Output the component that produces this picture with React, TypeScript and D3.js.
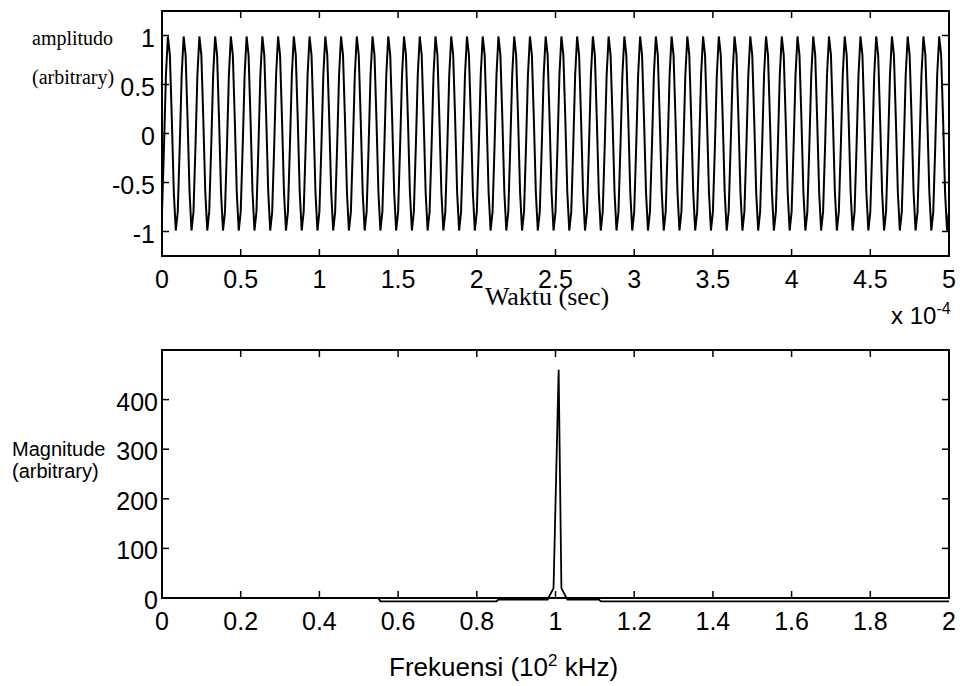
import React from "react";
import * as d3 from "d3";

// one period of the time signal (8 samples per cycle)
const waveCycle = [-0.8, -0.14, 0.6, 0.99, 0.8, 0.14, -0.6, -0.99];
const waveCycles = 50;
const waveEnd = 5; // x 10^-4 sec

// spectrum, frequency in 10^2 kHz
const specFreq = [0, 0.55, 0.555, 0.85, 0.855, 0.98, 0.995, 1.008, 1.015, 1.03, 1.11, 1.115, 2];
const specMag = [0, 0, -7, -7, -3, -3, 20, 460, 20, -3, -3, -7, -7];

const timeTicks = [0, 0.5, 1, 1.5, 2, 2.5, 3, 3.5, 4, 4.5, 5];
const ampTicks = [-1, -0.5, 0, 0.5, 1];
const freqTicks = [0, 0.2, 0.4, 0.6, 0.8, 1, 1.2, 1.4, 1.6, 1.8, 2];
const magTicks = [0, 100, 200, 300, 400];

const sans = "Liberation Sans, Arial, Helvetica, sans-serif";
const serif = "Liberation Serif, Times New Roman, serif";

const left = 162;
const right = 949;
const tickLen = 7;

function Frame({ x, y, xt, yt }: any) {
  const [x0, x1] = x.range();
  const [y0, y1] = y.range();
  return (
    <g stroke="#000" strokeWidth={1.5}>
      {xt.map((t: number) => (
        <g key={"x" + t}>
          <line x1={x(t)} x2={x(t)} y1={y0} y2={y0 - tickLen} />
          <line x1={x(t)} x2={x(t)} y1={y1} y2={y1 + tickLen} />
        </g>
      ))}
      {yt.map((t: number) => (
        <g key={"y" + t}>
          <line x1={x0} x2={x0 + tickLen} y1={y(t)} y2={y(t)} />
          <line x1={x1} x2={x1 - tickLen} y1={y(t)} y2={y(t)} />
        </g>
      ))}
      <rect x={x0} y={y1} width={x1 - x0} height={y0 - y1} fill="none" strokeWidth={2} />
    </g>
  );
}

export default function App() {
  // time series built from the read cycle
  const n = waveCycle.length;
  const wave: [number, number][] = [];
  for (let c = 0; c < waveCycles; c++) {
    waveCycle.forEach((v, i) => wave.push([((c * n + i) / (waveCycles * n)) * waveEnd, v]));
  }
  wave.push([waveEnd, waveCycle[0]]);

  const xT = d3.scaleLinear().domain([0, 5]).range([left, right]);
  const yT = d3.scaleLinear().domain([-1.25, 1.25]).range([256, 11]);
  const xF = d3.scaleLinear().domain([0, 2]).range([left, right]);
  const yF = d3.scaleLinear().domain([0, 500]).range([598, 350]);

  const waveLine = d3.line<[number, number]>().x((d) => xT(d[0])).y((d) => yT(d[1]));
  const specLine = d3
    .line<number>()
    .x((d) => xF(d))
    .y((_, i) => yF(specMag[i]));

  return (
    <svg width={960} height={686} style={{ position: "absolute", left: 0, top: 0 }}>
      <rect width={960} height={686} fill="#fff" />

      {/* upper plot */}
      <path d={waveLine(wave) || ""} fill="none" stroke="#000" strokeWidth={2} />
      <Frame x={xT} y={yT} xt={timeTicks} yt={ampTicks} />
      <g fontFamily={sans} fontSize={25} fill="#000">
        {timeTicks.map((t) => (
          <text key={t} x={xT(t)} y={288} textAnchor="middle">
            {t}
          </text>
        ))}
        {ampTicks.map((t) => (
          <text key={t} x={155} y={yT(t) + 11} textAnchor="end">
            {t}
          </text>
        ))}
        <text x={891} y={324} fontSize={24}>
          x 10
          <tspan dy={-10} fontSize={16}>-4</tspan>
        </text>
      </g>
      <g fontFamily={serif} fill="#000">
        <text x={32} y={45} fontSize={20}>amplitudo</text>
        <text x={32} y={84} fontSize={20}>(arbitrary)</text>
        <text x={547} y={305} fontSize={26} textAnchor="middle">Waktu (sec)</text>
      </g>

      {/* lower plot */}
      <path d={specLine(specFreq) || ""} fill="none" stroke="#000" strokeWidth={1.8} />
      <Frame x={xF} y={yF} xt={freqTicks} yt={magTicks} />
      <g fontFamily={sans} fontSize={25} fill="#000">
        {freqTicks.map((t) => (
          <text key={t} x={xF(t)} y={630} textAnchor="middle">
            {t}
          </text>
        ))}
        {magTicks.map((t) => (
          <text key={t} x={158} y={yF(t) + 11} textAnchor="end">
            {t}
          </text>
        ))}
        <text x={389} y={676} fontSize={26}>
          Frekuensi (10
          <tspan dy={-10} fontSize={17}>2</tspan>
          <tspan dy={10}> kHz)</tspan>
        </text>
      </g>
      <g fontFamily={sans} fontSize={20} fill="#000">
        <text x={12} y={456}>Magnitude</text>
        <text x={12} y={478}>(arbitrary)</text>
      </g>
    </svg>
  );
}
